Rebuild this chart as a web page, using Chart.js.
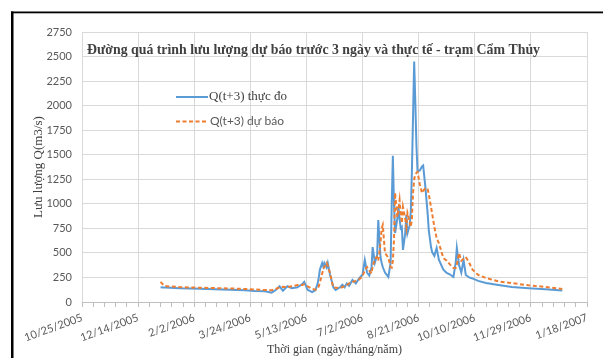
<!DOCTYPE html>
<html>
<head>
<meta charset="utf-8">
<script src="https://cdn.jsdelivr.net/npm/chart.js@4/dist/chart.umd.min.js"></script>
<style>
  html, body { margin: 0; padding: 0; background: #ffffff; }
  #wrap { position: relative; width: 603px; height: 358px; }
</style>
</head>
<body>
<div id="wrap"><canvas id="c" width="603" height="358"></canvas></div>
<script>
// ---- data ----
const dates = [
  '1/3/2006','1/5/2006','1/7/2006','1/20/2006','2/7/2006','2/20/2006','3/6/2006','3/19/2006','3/28/2006',
  '4/6/2006','4/12/2006','4/16/2006','4/19/2006','4/22/2006','4/26/2006','4/30/2006','5/5/2006','5/9/2006',
  '5/11/2006','5/14/2006','5/18/2006','5/21/2006','5/23/2006','5/24/2006','5/25/2006','5/27/2006','5/28/2006',
  '5/29/2006','5/31/2006','6/1/2006','6/3/2006','6/5/2006','6/6/2006','6/8/2006','6/12/2006','6/14/2006',
  '6/16/2006','6/18/2006','6/20/2006','6/23/2006','6/26/2006','6/29/2006','7/2/2006','7/3/2006','7/4/2006',
  '7/6/2006','7/8/2006','7/10/2006','7/11/2006','7/13/2006','7/15/2006','7/16/2006','7/18/2006','7/19/2006',
  '7/20/2006','7/22/2006','7/25/2006','7/27/2006','7/28/2006','7/29/2006','7/30/2006','7/31/2006','8/2/2006',
  '8/3/2006','8/4/2006','8/5/2006','8/6/2006','8/7/2006','8/9/2006','8/10/2006','8/11/2006','8/13/2006',
  '8/14/2006','8/15/2006','8/16/2006','8/17/2006','8/18/2006','8/19/2006','8/20/2006','8/22/2006','8/24/2006',
  '8/25/2006','8/27/2006','8/29/2006','8/30/2006','9/1/2006','9/2/2006','9/4/2006','9/6/2006','9/8/2006',
  '9/12/2006','9/15/2006','9/18/2006','9/21/2006','9/23/2006','9/24/2006','9/26/2006','9/28/2006','9/30/2006',
  '10/2/2006','10/5/2006','10/8/2006','10/13/2006','10/20/2006','10/31/2006','11/12/2006','11/27/2006','12/12/2006',
  '12/27/2006'
];
const observed = [
  150,148,147,140,135,130,125,120,112,
  110,95,125,160,115,160,140,150,180,
  205,125,100,120,190,250,330,397,360,
  397,350,397,280,193,150,122,150,175,
  150,190,165,225,190,240,280,356,428,
  300,270,350,560,400,480,835,458,400,
  356,300,255,400,1000,1490,1000,703,850,
  967,850,750,764,530,700,886,700,780,
  916,1350,1900,2450,2040,1600,1330,1340,1380,
  1390,1171,900,733,560,509,470,550,430,
  330,295,280,255,400,550,377,300,428,
  275,250,240,215,193,173,153,140,130,
  118
];
const forecast = [
  205,180,162,152,145,142,138,133,128,
  122,120,135,148,155,150,160,172,172,
  180,160,135,125,140,160,200,290,326,
  360,397,370,295,190,153,145,145,150,
  165,175,190,204,215,230,262,295,320,
  356,320,290,360,440,458,420,600,750,
  784,499,450,356,350,420,631,1110,866,
  950,1039,900,804,967,850,764,906,820,
  764,850,1110,1250,1300,1314,1324,1200,1110,
  1130,1161,1150,1100,967,900,764,650,600,
  448,420,380,346,346,380,499,420,440,
  458,400,330,275,244,210,193,170,153,
  132
];
const seriesNames = ['Q(t+3) thực đo', 'Q(t+3) dự báo'];
const chartTitle = 'Đường quá trình lưu lượng dự báo trước 3 ngày và thực tế - trạm Cẩm Thủy';
const yAxisTitle = 'Lưu lượng Q(m3/s)';
const xAxisTitle = 'Thời gian (ngày/tháng/năm)';
const axisStartDate = '10/25/2005';
const xTickStepDays = 50;
const yTicks = [0, 250, 500, 750, 1000, 1250, 1500, 1750, 2000, 2250, 2500, 2750];

// ---- helpers ----
function parseUS(s) { const [m, d, y] = s.split('/').map(Number); return Date.UTC(y, m - 1, d); }
const t0 = parseUS(axisStartDate);
const toDay = s => Math.round((parseUS(s) - t0) / 86400000);
function fmtDay(v) {
  const d = new Date(t0 + v * 86400000);
  return (d.getUTCMonth() + 1) + '/' + d.getUTCDate() + '/' + d.getUTCFullYear();
}
const obsPts = dates.map((s, i) => ({ x: toDay(s), y: observed[i] }));
const fcPts = dates.map((s, i) => ({ x: toDay(s), y: forecast[i] }));

const BLUE = '#5B9BD5', ORANGE = '#ED7D31';

const decor = {
  id: 'decor',
  beforeDraw(chart) {
    const ctx = chart.ctx;
    ctx.save();
    ctx.fillStyle = '#ffffff';
    ctx.fillRect(0, 0, chart.width, chart.height);
    ctx.restore();
  },
  afterDraw(chart) {
    const ctx = chart.ctx;
    const a = chart.chartArea;
    ctx.save();
    // frame
    ctx.fillStyle = '#000000';
    ctx.fillRect(11, 11.5, 2.5, chart.height);
    ctx.fillRect(11, 11.5, chart.width, 1.8);
    // title
    ctx.fillStyle = '#404040';
    ctx.font = 'bold 14px "Liberation Serif"';
    ctx.textBaseline = 'alphabetic';
    ctx.textAlign = 'left';
    ctx.fillText(chartTitle, a.left + 5, 54, 453);
    // legend
    const lx = a.left + 94;
    ctx.lineWidth = 2;
    ctx.strokeStyle = BLUE;
    ctx.setLineDash([]);
    ctx.beginPath(); ctx.moveTo(lx, 97); ctx.lineTo(lx + 32, 97); ctx.stroke();
    ctx.strokeStyle = ORANGE;
    ctx.setLineDash([4, 2.5]);
    ctx.beginPath(); ctx.moveTo(lx, 121.5); ctx.lineTo(lx + 32, 121.5); ctx.stroke();
    ctx.setLineDash([]);
    ctx.fillStyle = '#404040';
    ctx.textBaseline = 'middle';
    ctx.font = '13px "Liberation Serif"';
    ctx.fillText(seriesNames[0], lx + 33, 97);
    ctx.fillStyle = '#595959';
    ctx.font = '12px Lato';
    ctx.fillText(seriesNames[1], lx + 34, 121);
    ctx.restore();
  }
};

new Chart(document.getElementById('c'), {
  type: 'line',
  data: {
    datasets: [
      { label: seriesNames[0], data: obsPts, borderColor: BLUE, backgroundColor: BLUE,
        borderWidth: 2, pointRadius: 0, tension: 0, order: 1 },
      { label: seriesNames[1], data: fcPts, borderColor: ORANGE, backgroundColor: ORANGE,
        borderWidth: 2, borderDash: [4, 2.5], pointRadius: 0, tension: 0, order: 0 }
    ]
  },
  options: {
    responsive: false,
    animation: false,
    events: [],
    layout: { padding: { left: 28, top: 32, right: 16, bottom: 0 } },
    plugins: { legend: { display: false }, tooltip: { enabled: false }, title: { display: false } },
    scales: {
      x: {
        type: 'linear', min: 0, max: 450,
        afterFit: s => { s.height = 56; },
        ticks: {
          stepSize: 10, autoSkip: false, minRotation: 20, maxRotation: 20,
          color: '#595959', font: { family: 'Lato', size: 11 }, padding: 4,
          callback: v => (v % xTickStepDays === 0 ? fmtDay(v) : '')
        },
        grid: {
          color: c => (c.tick && c.tick.value % xTickStepDays === 0 ? '#d9d9d9' : 'rgba(0,0,0,0)'),
          tickColor: '#bfbfbf', tickLength: 5, lineWidth: 1
        },
        border: { color: '#bfbfbf', width: 1 },
        title: { display: true, text: xAxisTitle, color: '#404040',
          font: { family: 'Liberation Serif', size: 12 }, padding: { top: 0, bottom: 1 } }
      },
      y: {
        min: 0, max: 2750,
        afterFit: s => { s.width = 54; },
        afterBuildTicks: s => { s.ticks = yTicks.map(v => ({ value: v })); },
        ticks: { color: '#595959', font: { family: 'Lato', size: 11 }, padding: 10,
          callback: v => String(v) },
        grid: { color: '#d9d9d9', drawTicks: false, lineWidth: 1 },
        border: { display: false },
        title: { display: true, text: yAxisTitle, color: '#404040',
          font: { family: 'Liberation Serif', size: 13 }, padding: { top: 3, bottom: 4 } }
      }
    }
  },
  plugins: [decor]
});
</script>
</body>
</html>
